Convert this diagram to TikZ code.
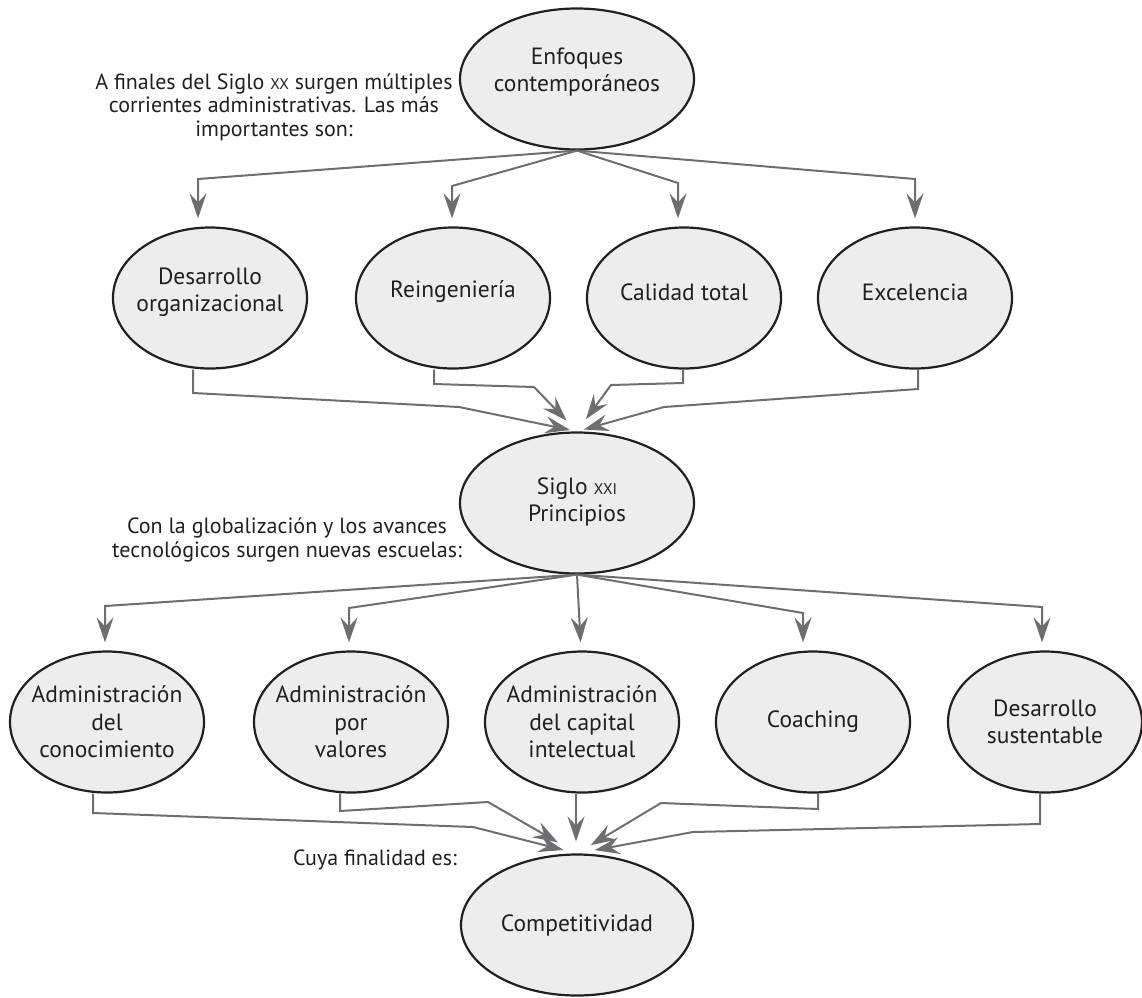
\documentclass[tikz,border=0pt]{standalone}
\usepackage{fontspec}
\setmainfont{PT Sans}
\usetikzlibrary{shapes.geometric,arrows.meta}
\definecolor{fillg}{HTML}{EDEDED}
\definecolor{lineg}{HTML}{6D6E71}
\definecolor{ink}{HTML}{231F20}
\newcommand{\smc}[1]{{\fontsize{15.5}{15.5}\selectfont #1}}
\begin{document}
\begin{tikzpicture}[x=1pt,y=-1pt,
  ell/.style={ellipse, draw=ink, line width=2.2pt, fill=fillg, inner sep=0pt,
              minimum width=194pt, minimum height=141pt},
  bigell/.style={ell, minimum width=234pt, minimum height=141pt},
  txt/.style={font=\fontsize{23.5}{27.5}\selectfont, text=ink, align=center, inner sep=0pt},
  lbl/.style={font=\fontsize{22}{23.5}\selectfont, text=ink, align=center, inner sep=0pt},
  conn/.style={draw=lineg, line width=2pt, line join=miter,
               -{Stealth[length=25pt,width=17pt,inset=9pt]}, shorten >=8pt}]
\useasboundingbox (0,0) rectangle (1142,997);

% nodes
\node[bigell, label={[txt,yshift=7pt]center:{Enfoques\\contemporáneos}}] (enf) at (577,79) {};
\node[ell, label={[txt,yshift=6pt]center:{Desarrollo\\organizacional}}] (des) at (210,298) {};
\node[ell, label={[txt,yshift=6pt]center:{Reingeniería}}] (rei) at (453,298) {};
\node[ell, label={[txt,yshift=6pt]center:{Calidad total}}] (cal) at (684,298) {};
\node[ell, label={[txt,yshift=6pt]center:{Excelencia}}] (exc) at (915,298) {};
\node[bigell, label={[txt,yshift=1pt]center:{Siglo \smc{XXI}\\Principios}}] (sig) at (577,503) {};
\node[ell, label={[txt]center:{Administración\\del\\conocimiento}}] (ac) at (107,722) {};
\node[ell, label={[txt]center:{Administración\\por\\valores}}] (av) at (351,722) {};
\node[ell, label={[txt]center:{Administración\\del capital\\intelectual}}] (ai) at (582,722) {};
\node[ell, label={[txt]center:{Coaching}}] (co) at (813,722) {};
\node[ell, label={[txt]center:{Desarrollo\\sustentable}}] (ds) at (1045,722) {};
\node[bigell, minimum width=232pt, label={[txt]center:{Competitividad}}] (comp) at (577,925) {};

% labels
\node[lbl] (l1) at (274,107) {A finales del Siglo \smc{XX} surgen múltiples\\corrientes administrativas. Las más\\importantes son:};
\node[lbl] (l2) at (287,540) {Con la globalización y los avances\\tecnológicos surgen nuevas escuelas:};
\node[lbl] (l3) at (375,860) {Cuya finalidad es:};

% fan-out from Enfoques
\draw[conn] (enf.south) -- (198,179) -- ([xshift=-12pt]des.north);
\draw[conn] (enf.south) -- (452,186) -- ([xshift=-1pt]rei.north);
\draw[conn] (enf.south) -- (678,183) -- ([xshift=-6pt]cal.north);
\draw[conn] (enf.south) -- (915,179) -- (exc.north);

% converge to Siglo XXI
\draw[conn, shorten >=7pt] ([xshift=-17pt]des.south) -- (193,393) -- (459,407) -- (sig.north);
\draw[conn, shorten >=15pt] ([xshift=-19pt]rei.south) -- (434,384) -- (534,387) -- (sig.north);
\draw[conn, shorten >=15pt] ([xshift=-1pt]cal.south) -- (683,383) -- (611,385) -- (sig.north);
\draw[conn, shorten >=7pt] ([xshift=3pt]exc.south) -- (918,389) -- (664,407) -- (sig.north);

% fan-out from Siglo XXI
\draw[conn] (sig.south) -- (105,606) -- ([xshift=-2pt]ac.north);
\draw[conn] (sig.south) -- (349,608) -- ([xshift=-2pt]av.north);
\draw[conn] (sig.south) -- ([xshift=-1pt]ai.north);
\draw[conn] (sig.south) -- (803,613) -- ([xshift=-10pt]co.north);
\draw[conn] (sig.south) -- (1042,607) -- ([xshift=-3pt]ds.north);

% converge to Competitividad
\draw[conn, shorten >=14pt] ([xshift=-14pt]ac.south) -- (93,813) -- (473,827) -- (comp.north);
\draw[conn, shorten >=22pt] ([xshift=-11pt]av.south) -- (340,811) -- (488,802) -- (comp.north);
\draw[conn, shorten >=12pt] ([xshift=-6pt]ai.south) -- ([xshift=-1pt]comp.north);
\draw[conn, shorten >=16pt] ([xshift=5pt]co.south) -- (818,809) -- (661,803) -- (comp.north);
\draw[conn, shorten >=18pt] ([xshift=-5pt]ds.south) -- (1040,824) -- (693,832) -- (comp.north);
\end{tikzpicture}
\end{document}
